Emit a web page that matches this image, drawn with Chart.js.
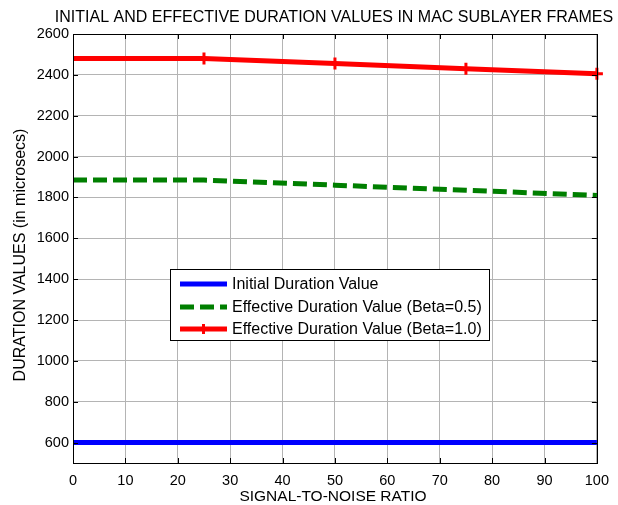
<!DOCTYPE html>
<html>
<head>
<meta charset="utf-8">
<script src="https://cdn.jsdelivr.net/npm/chart.js@4.4.1/dist/chart.umd.min.js"></script>
<style>
html,body{margin:0;padding:0;background:#fff;}
#wrap{width:618px;height:505px;}
</style>
</head>
<body>
<div id="wrap"><canvas id="c" width="618" height="505"></canvas></div>
<script>
const snr = [0, 25, 50, 75, 100];
const initialDuration = [600, 600, 600, 600, 600];
const effectiveBeta05 = [1885, 1885, 1860, 1835, 1810];
const effectiveBeta10 = [2480, 2480, 2455, 2430, 2405];
const xTicks = [0, 10, 20, 30, 40, 50, 60, 70, 80, 90, 100];
const yTicks = [600, 800, 1000, 1200, 1400, 1600, 1800, 2000, 2200, 2400, 2600];
const seriesNames = ['Initial Duration Value', 'Effective Duration Value (Beta=0.5)', 'Effective Duration Value (Beta=1.0)'];
const titleText = 'INITIAL AND EFFECTIVE DURATION VALUES IN MAC SUBLAYER FRAMES';
const xTitle = 'SIGNAL-TO-NOISE RATIO';
const yTitle = 'DURATION VALUES (in microsecs)';

const FONT = 'Liberation Sans, Arial, sans-serif';

const toXY = (xs, ys) => xs.map((x, i) => ({x: x, y: ys[i]}));

const framePlugin = {
  id: 'frame',
  afterDraw(chart) {
    const ctx = chart.ctx;
    const a = chart.chartArea;
    const xs = chart.scales.x, ys = chart.scales.y;
    ctx.save();
    // box
    ctx.strokeStyle = '#000';
    ctx.lineWidth = 1;
    ctx.strokeRect(Math.round(a.left) + 0.5, Math.round(a.top) + 0.5, Math.round(a.right - a.left), Math.round(a.bottom - a.top));
    // inward ticks
    ctx.beginPath();
    xTicks.forEach(v => {
      const px = Math.round(xs.getPixelForValue(v)) + 0.5;
      ctx.moveTo(px, a.bottom); ctx.lineTo(px, a.bottom - 5);
      ctx.moveTo(px, a.top); ctx.lineTo(px, a.top + 5);
    });
    yTicks.forEach(v => {
      const py = Math.round(ys.getPixelForValue(v)) + 0.5;
      ctx.moveTo(a.left, py); ctx.lineTo(a.left + 5, py);
      ctx.moveTo(a.right, py); ctx.lineTo(a.right - 5, py);
    });
    ctx.stroke();
    // title
    ctx.fillStyle = '#000';
    ctx.font = '16px ' + FONT;
    ctx.textAlign = 'center';
    ctx.textBaseline = 'middle';
    ctx.fillText(titleText, 334, 18);
    // x title
    ctx.font = '15.5px ' + FONT;
    ctx.fillText(xTitle, 333, 497);
    // y title
    ctx.save();
    ctx.font = '16px ' + FONT;
    ctx.translate(21, 255);
    ctx.rotate(-Math.PI / 2);
    ctx.fillText(yTitle, 0, 0);
    ctx.restore();
    // legend
    const lx = 170, ly = 269, lw = 319, lh = 71;
    ctx.fillStyle = '#fff';
    ctx.fillRect(lx, ly, lw, lh);
    ctx.strokeStyle = '#000';
    ctx.lineWidth = 1;
    ctx.strokeRect(lx + 0.5, ly + 0.5, lw, lh);
    const rows = [ly + 15, ly + 38, ly + 60];
    const ds = chart.data.datasets;
    rows.forEach((ry, i) => {
      const d = ds[i];
      ctx.strokeStyle = d.borderColor;
      ctx.lineWidth = d.borderWidth;
      ctx.setLineDash(d.borderDash || []);
      ctx.beginPath();
      ctx.moveTo(180, ry); ctx.lineTo(227, ry);
      ctx.stroke();
      ctx.setLineDash([]);
      if (i === 2) {
        ctx.lineWidth = 3;
        ctx.beginPath();
        ctx.moveTo(203.5, ry - 5); ctx.lineTo(203.5, ry + 5);
        ctx.moveTo(198.5, ry); ctx.lineTo(208.5, ry);
        ctx.stroke();
      }
      ctx.fillStyle = '#000';
      ctx.font = '16px ' + FONT;
      ctx.textAlign = 'left';
      ctx.textBaseline = 'middle';
      ctx.fillText(seriesNames[i], 232, ry + 1);
    });
    ctx.restore();
  }
};

new Chart(document.getElementById('c'), {
  type: 'line',
  data: {
    datasets: [
      {label: seriesNames[0], data: toXY(snr, initialDuration), borderColor: '#0000ff', backgroundColor: '#0000ff', borderWidth: 5, pointRadius: 0, tension: 0},
      {label: seriesNames[1], data: toXY(snr, effectiveBeta05), borderColor: '#007f00', backgroundColor: '#007f00', borderWidth: 5, borderDash: [14, 6], pointRadius: 0, tension: 0},
      {label: seriesNames[2], data: toXY(snr, effectiveBeta10), borderColor: '#ff0000', backgroundColor: '#ff0000', borderWidth: 5, pointStyle: 'cross', pointRadius: [0, 6, 6, 6, 6], pointBorderWidth: 3, pointHoverRadius: 0, tension: 0}
    ]
  },
  options: {
    responsive: false,
    animation: false,
    devicePixelRatio: 1,
    clip: false,
    layout: {padding: {top: 34, right: 21, left: 0, bottom: 0}},
    plugins: {legend: {display: false}, title: {display: false}, tooltip: {enabled: false}},
    scales: {
      x: {
        type: 'linear', min: 0, max: 100,
        afterFit(s) { s.height = 42; },
        afterBuildTicks(s) { s.ticks = xTicks.map(v => ({value: v})); },
        grid: {color: '#b4b4b4', lineWidth: 1, drawTicks: false},
        border: {display: false},
        ticks: {color: '#000', font: {size: 14.5, family: FONT}, padding: 9, maxRotation: 0, autoSkip: false, callback: v => String(v)}
      },
      y: {
        type: 'linear', min: 500, max: 2600,
        afterFit(s) { s.width = 73; },
        afterBuildTicks(s) { s.ticks = yTicks.map(v => ({value: v})); },
        grid: {color: '#b4b4b4', lineWidth: 1, drawTicks: false},
        border: {display: false},
        ticks: {color: '#000', font: {size: 14.5, family: FONT}, padding: 4, autoSkip: false, callback: v => String(v)}
      }
    }
  },
  plugins: [framePlugin]
});
</script>
</body>
</html>
